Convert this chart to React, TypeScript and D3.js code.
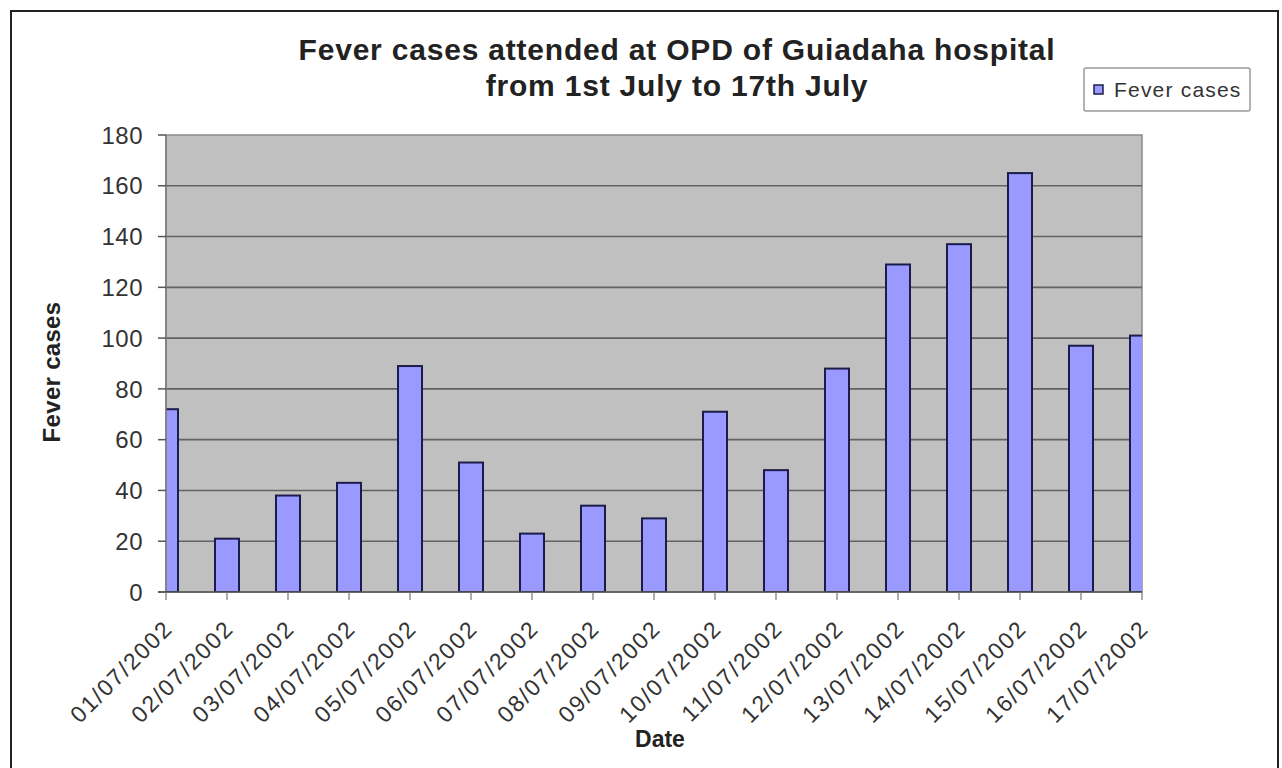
import * as d3 from "d3";

const dates = [
  "01/07/2002", "02/07/2002", "03/07/2002", "04/07/2002", "05/07/2002", "06/07/2002",
  "07/07/2002", "08/07/2002", "09/07/2002", "10/07/2002", "11/07/2002", "12/07/2002",
  "13/07/2002", "14/07/2002", "15/07/2002", "16/07/2002", "17/07/2002",
];
const feverCases = [72, 21, 38, 43, 89, 51, 23, 34, 29, 71, 48, 88, 129, 137, 165, 97, 101];
const yTicks = [0, 20, 40, 60, 80, 100, 120, 140, 160, 180];
const titleLines = ["Fever cases attended at OPD of Guiadaha hospital", "from 1st July to 17th July"];

const W = 1282;
const H = 768;
const plot = { left: 166, right: 1142, top: 135, bottom: 592 };
const font = "'Liberation Sans', Arial, sans-serif";

export default function App() {
  const x = d3.scalePoint<string>().domain(dates).range([plot.left, plot.right]).padding(0);
  const y = d3.scaleLinear().domain([0, 180]).range([plot.bottom, plot.top]);
  const barW = 24;

  return (
    <div style={{ position: "fixed", left: 0, top: 0 }}>
      <svg width={W} height={H} style={{ display: "block", background: "#fff" }}>
        <defs>
          <clipPath id="plotClip">
            <rect x={plot.left} y={plot.top - 2} width={plot.right - plot.left} height={plot.bottom - plot.top + 2} />
          </clipPath>
        </defs>

        {/* outer frame */}
        <rect x={11} y={11} width={1267} height={780} fill="none" stroke="#222" strokeWidth={2} />

        {/* title */}
        {titleLines.map((t, i) => (
          <text key={t} x={677} y={60 + i * 36} textAnchor="middle" fontFamily={font}
            fontWeight="bold" fontSize={30} letterSpacing={0.8} fill="#222">{t}</text>
        ))}

        {/* plot background */}
        <rect x={plot.left} y={plot.top} width={plot.right - plot.left} height={plot.bottom - plot.top}
          fill="#c0c0c0" stroke="#8a8a8a" strokeWidth={1.5} />

        {/* grid lines */}
        {yTicks.filter((t) => t > 0 && t < 180).map((t) => (
          <line key={t} x1={plot.left} x2={plot.right} y1={y(t)} y2={y(t)} stroke="#626262" strokeWidth={1.6} />
        ))}

        {/* bars */}
        <g clipPath="url(#plotClip)">
          {dates.map((d, i) => (
            <rect key={d} x={(x(d) as number) - barW / 2} y={y(feverCases[i])} width={barW}
              height={y(0) - y(feverCases[i])} fill="#9999ff" stroke="#1c1c4a" strokeWidth={2} />
          ))}
        </g>

        {/* axes */}
        <line x1={plot.left} x2={plot.left} y1={plot.top} y2={plot.bottom} stroke="#7a7a7a" strokeWidth={1.5} />
        <line x1={plot.left - 8} x2={plot.right} y1={plot.bottom} y2={plot.bottom} stroke="#555" strokeWidth={1.6} />
        {yTicks.map((t) => (
          <g key={t}>
            <line x1={plot.left - 8} x2={plot.left} y1={y(t)} y2={y(t)} stroke="#555" strokeWidth={1.5} />
            <text x={143} y={y(t)} dy="0.36em" textAnchor="end" fontFamily={font} fontSize={24}
              letterSpacing={0.5} fill="#333">{t}</text>
          </g>
        ))}
        {dates.map((d) => (
          <g key={d}>
            <line x1={x(d)} x2={x(d)} y1={plot.bottom} y2={plot.bottom + 8} stroke="#777" strokeWidth={1.2} />
            <text transform={`translate(${(x(d) as number) + 8},${plot.bottom + 38}) rotate(-45)`}
              textAnchor="end" fontFamily={font} fontSize={23} letterSpacing={1.8} fill="#333">{d}</text>
          </g>
        ))}

        {/* axis titles */}
        <text transform="translate(60,372) rotate(-90)" textAnchor="middle" fontFamily={font}
          fontWeight="bold" fontSize={24} letterSpacing={0.3} fill="#222">Fever cases</text>
        <text x={660} y={747} textAnchor="middle" fontFamily={font} fontWeight="bold" fontSize={23}
          fill="#222">Date</text>

        {/* legend */}
        <rect x={1084} y={68} width={166} height={43} fill="#fff" stroke="#9a9a9a" strokeWidth={1.5} rx={2} />
        <rect x={1094} y={85} width={9} height={9} fill="#9999ff" stroke="#1c1c4a" strokeWidth={1.5} />
        <text x={1114} y={97} fontFamily={font} fontSize={21} letterSpacing={1.2} fill="#333">Fever cases</text>
      </svg>
    </div>
  );
}
